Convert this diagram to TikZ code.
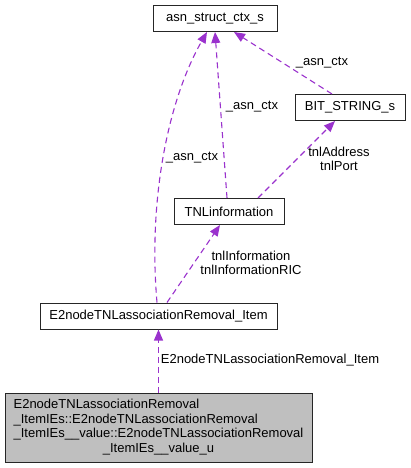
\documentclass[tikz,border=0pt]{standalone}
\usepackage{fontspec}
\setmainfont{Liberation Sans}
\usetikzlibrary{arrows.meta}
\definecolor{edgec}{RGB}{154,50,205}
\definecolor{boxgray}{RGB}{191,191,191}
\begin{document}
\begin{tikzpicture}[x=1pt,y=-1pt,
  every node/.style={font=\fontsize{13}{14.5}\selectfont, inner sep=0pt},
  cls/.style={draw=black!85, line width=1pt, fill=white, minimum height=26pt},
  rel/.style={draw=edgec, line width=1.1pt, dash pattern=on 6pt off 4pt, -{Triangle[length=11pt,width=9pt]}},
  lbl/.style={align=center}]
\useasboundingbox (0,0) rectangle (411,468);
\node[cls, minimum width=124pt] (asn) at (215,18.5) {asn\_struct\_ctx\_s};
\node[cls, minimum width=110pt] (bit) at (350,107.5) {BIT\_STRING\_s};
\node[cls, minimum width=110pt] (tnl) at (229,211.5) {TNLinformation};
\node[cls, minimum width=237pt] (item) at (158.5,316) {E2nodeTNLassociationRemoval\_Item};
\node[cls, fill=boxgray, minimum width=307pt, minimum height=69pt] (bot) at (158.5,427.5)
  {\begin{tabular}{@{}l@{}}E2nodeTNLassociationRemoval\\
  \_ItemIEs::E2nodeTNLassociationRemoval\\
  \_ItemIEs\_\_value::E2nodeTNLassociationRemoval\\
  \multicolumn{1}{@{}c@{}}{\_ItemIEs\_\_value\_u}\end{tabular}};
\node[lbl] (l1) at (192,158) {\_asn\_ctx};
\node[lbl] (l2) at (252,107) {\_asn\_ctx};
\node[lbl] (l3) at (322,63) {\_asn\_ctx};
\node[lbl] (l4) at (339,159) {tnlAddress\\tnlPort};
\node[lbl] (l5) at (251,263) {tnlInformation\\tnlInformationRIC};
\node[lbl] (l6) at (270,360) {E2nodeTNLassociationRemoval\_Item};
\draw[rel] ([xshift=-1.5pt]item.north) .. controls (148,200) and (168,100) .. ([xshift=-8pt]asn.south);
\draw[rel] ([xshift=-2pt]tnl.north) -- (asn.south);
\draw[rel] ([xshift=-18pt]bit.north) -- ([xshift=19pt]asn.south);
\draw[rel] ([xshift=29pt]tnl.north) -- ([xshift=-15pt]bit.south);
\draw[rel] ([xshift=8.5pt]item.north) -- ([xshift=-9pt]tnl.south);
\draw[rel] (bot.north) -- (item.south);
\end{tikzpicture}
\end{document}
